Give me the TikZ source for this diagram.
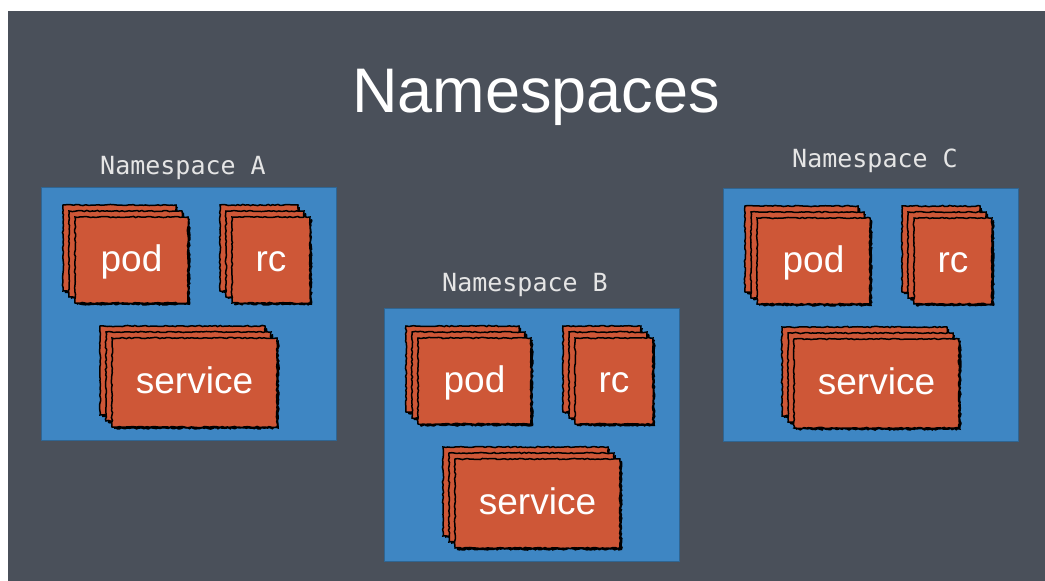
\documentclass[tikz,border=0pt]{standalone}
\usepackage{fontspec}
\setmainfont{Liberation Sans}
\newfontfamily\monofont{DejaVu Sans Mono}
\usetikzlibrary{positioning,decorations.pathmorphing}

\definecolor{slate}{HTML}{4A505A}
\definecolor{nsblue}{HTML}{3E86C3}
\definecolor{kubered}{HTML}{CE5737}

\tikzset{
    pics/stack/.style n args={3}{code={
        \foreach \k in {2,1,0} {
            \fill[cardshade] (-6*\k+2,-6*\k+2) rectangle ++(#1,#2);
            \draw[card] (-6*\k,-6*\k) rectangle ++(#1,#2);
        }
        \node[cardtext] (-label) at (#1/2,#2/2+11) {#3};
    }}
}

\begin{document}
\begin{tikzpicture}[
    x=1pt, y=-1pt,
    panel/.style={fill=nsblue, draw=nsblue!75!black, line width=0.8pt, inner sep=0pt, anchor=north west},
    nslabel/.style={text=white!90!black, font=\monofont\fontsize{25}{25}\selectfont, anchor=base},
    card/.style={fill=kubered, draw=black, line width=1.5pt,
        decorate, decoration={random steps, segment length=2.5pt, amplitude=0.6pt}},
    cardshade/.style={fill=black, decorate,
        decoration={random steps, segment length=2pt, amplitude=0.8pt}},
    cardtext/.style={text=white, font=\fontsize{37}{37}\selectfont, anchor=base}
]

\useasboundingbox (0,0) rectangle (1045,581);
\fill[white] (0,0) rectangle (1045,581);
\fill[slate] (8,11) rectangle (1045,581);

\node[text=white, font=\fontsize{63}{63}\selectfont, anchor=base] (title) at (536,112) {Namespaces};

% one panel per namespace
\foreach \ns/\px/\py/\lx/\ly in {A/41/187/183/174, B/384/308/525/291, C/723/188/875/167} {
    \node[panel, minimum width=295pt, minimum height=253pt] (ns\ns) at (\px,\py) {};
    \node[nslabel] (lbl\ns) at (\lx,\ly) {Namespace \ns};
    \pic (pod\ns) at ([shift={(34,30)}]ns\ns.north west) {stack={113}{86}{pod}};
    \pic (rc\ns) at ([shift={(191,30)}]ns\ns.north west) {stack={78}{86}{rc}};
    \pic (svc\ns) at ([shift={(71,151)}]ns\ns.north west) {stack={165}{89}{service}};
}

\end{tikzpicture}
\end{document}
